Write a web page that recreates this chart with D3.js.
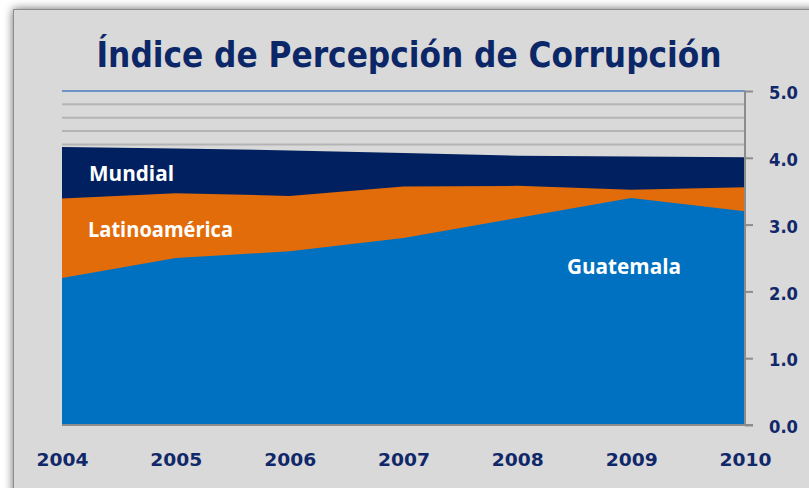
<!DOCTYPE html>
<html>
<head>
<meta charset="utf-8">
<script src="https://cdn.jsdelivr.net/npm/d3@7"></script>
<style>
  html, body { margin: 0; padding: 0; background: #ffffff; }
  svg { display: block; }
</style>
</head>
<body>
<script>
const years = ["2004", "2005", "2006", "2007", "2008", "2009", "2010"];
const mundial = [4.16, 4.14, 4.11, 4.07, 4.03, 4.02, 4.01];
const latinoamerica = [3.39, 3.47, 3.43, 3.57, 3.58, 3.52, 3.56];
const guatemala = [2.2, 2.5, 2.6, 2.8, 3.1, 3.4, 3.2];
const yTicks = [0, 1, 2, 3, 4, 5];
const gridValues = [4.2, 4.4, 4.6, 4.8];
const seriesNames = ["Mundial", "Latinoamérica", "Guatemala"];
const title = "Índice de Percepción de Corrupción";

const W = 809, H = 488;
const svg = d3.select("body").append("svg").attr("width", W).attr("height", H);

const defs = svg.append("defs");
const f = defs.append("filter").attr("id", "shadow")
  .attr("x", "-5%").attr("y", "-5%").attr("width", "110%").attr("height", "110%");
f.append("feGaussianBlur").attr("in", "SourceAlpha").attr("stdDeviation", 5).attr("result", "b");
f.append("feComponentTransfer").attr("in", "b").attr("result", "o2")
  .append("feFuncA").attr("type", "linear").attr("slope", 0.6);
const m = f.append("feMerge");
m.append("feMergeNode").attr("in", "o2");
m.append("feMergeNode").attr("in", "SourceGraphic");

// frame
svg.append("rect").attr("x", 13.5).attr("y", 9.5).attr("width", 820).attr("height", 500)
  .attr("fill", "#d9d9d9").attr("stroke", "#8c8c8c").attr("stroke-width", 1)
  .attr("filter", "url(#shadow)");

const x = d3.scalePoint().domain(years).range([62, 745]);
const y = d3.scaleLinear().domain([0, 5]).range([425, 91]);

// gridlines
svg.append("g").selectAll("line").data(gridValues).join("line")
  .attr("x1", 62).attr("x2", 745)
  .attr("y1", d => y(d)).attr("y2", d => y(d))
  .attr("stroke", "#b4b4b4").attr("stroke-width", 2);
svg.append("line").attr("x1", 62).attr("x2", 745).attr("y1", y(5)).attr("y2", y(5))
  .attr("stroke", "#6e93c8").attr("stroke-width", 2);

const colors = ["#00205f", "#e36c0a", "#0070c0"];
const seriesData = [mundial, latinoamerica, guatemala];
const area = d3.area().x((d, i) => x(years[i])).y0(y(0)).y1(d => y(d));
svg.append("g").selectAll("path").data(seriesData).join("path")
  .attr("d", d => area(d)).attr("fill", (d, i) => colors[i]);

// right axis
const yAxis = d3.axisRight(y).tickValues(yTicks).tickFormat(d3.format(".1f")).tickSize(8).tickPadding(16);
const ya = svg.append("g").attr("transform", "translate(745,0)").call(yAxis);
ya.select(".domain").attr("stroke", "#8c8c8c").attr("stroke-width", 2).attr("d", `M0,${y(5)}V${y(0)}`);
ya.selectAll(".tick line").attr("stroke", "#8c8c8c").attr("stroke-width", 2);
ya.selectAll(".tick text").attr("fill", "#102869").attr("font-family", "DejaVu Sans")
  .attr("font-weight", "bold").attr("font-size", 17).attr("dy", "0.45em")
  .attr("textLength", 29).attr("lengthAdjust", "spacingAndGlyphs");

// bottom axis
const xAxis = d3.axisBottom(x).tickSize(0).tickPadding(28);
const xa = svg.append("g").attr("transform", `translate(0,${y(0)})`).call(xAxis);
xa.select(".domain").attr("stroke", "#8c8c8c").attr("stroke-width", 2).attr("d", "M62,0H753");
xa.selectAll(".tick text").attr("fill", "#102869").attr("font-family", "DejaVu Sans")
  .attr("font-weight", "bold").attr("font-size", 18)
  .attr("textLength", 52).attr("lengthAdjust", "spacingAndGlyphs");

// title
svg.append("text").attr("x", 409).attr("y", 67).attr("text-anchor", "middle")
  .attr("fill", "#0c2768").attr("font-family", "'DejaVu Sans Condensed', 'DejaVu Sans'")
  .attr("font-stretch", "condensed").attr("font-weight", "bold")
  .attr("font-size", 35).attr("textLength", 625).attr("lengthAdjust", "spacingAndGlyphs")
  .text(title);

// series labels
const labelPos = [
  { x: 89, y: 181, w: 85 },
  { x: 88, y: 237, w: 145 },
  { x: 567, y: 274, w: 114 }
];
svg.append("g").selectAll("text").data(seriesNames).join("text")
  .attr("x", (d, i) => labelPos[i].x).attr("y", (d, i) => labelPos[i].y)
  .attr("fill", "#ffffff").attr("font-family", "Open Sans").attr("font-weight", "bold")
  .attr("font-size", 21).attr("textLength", (d, i) => labelPos[i].w)
  .attr("lengthAdjust", "spacingAndGlyphs").text(d => d);
</script>
</body>
</html>
